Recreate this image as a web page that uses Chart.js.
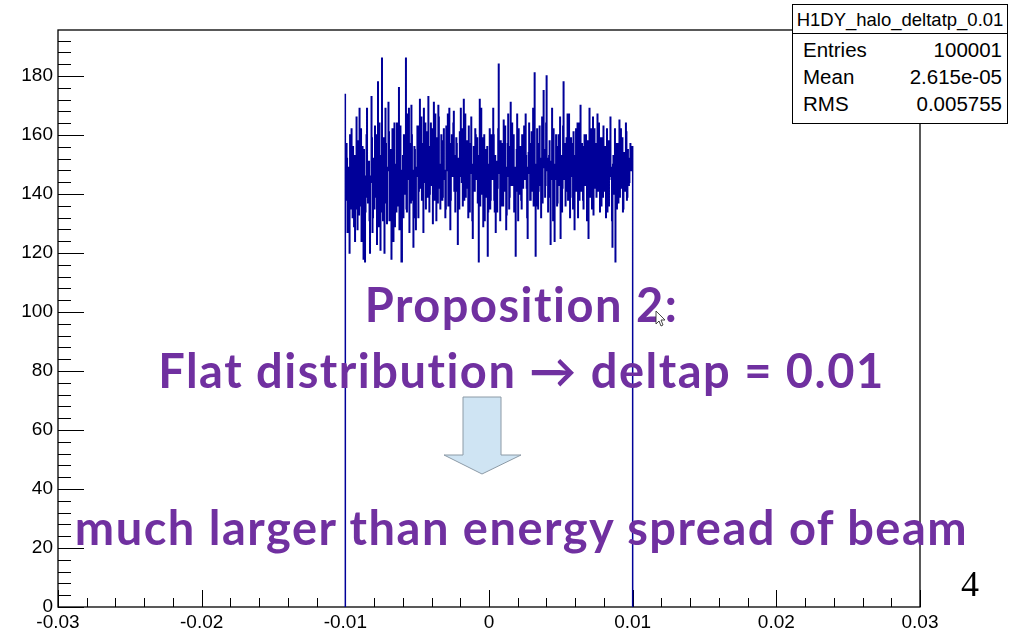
<!DOCTYPE html>
<html>
<head>
<meta charset="utf-8">
<script src="https://cdn.jsdelivr.net/npm/chart.js@4/dist/chart.umd.min.js"></script>
<style>
  html, body { margin: 0; padding: 0; background: #fff; }
  #wrap { position: relative; width: 1016px; height: 634px; overflow: hidden; background: #fff; }
  #c { position: absolute; left: 0; top: 0; }
  .stats { position: absolute; left: 792px; top: 4px; width: 214px; height: 118px; border: 1px solid #000; background: #fff;
           font-family: "Liberation Sans", Arial, sans-serif; color: #000; }
  .stats .title { position: absolute; left: 0; top: 0; width: 100%; height: 28px; border-bottom: 1px solid #000;
                  text-align: center; font-size: 18.5px; line-height: 29px; white-space: nowrap; }
  .stats .row { position: absolute; left: 10px; right: 5px; font-size: 20.5px; line-height: 22px; }
  .stats .row span { position: absolute; right: 0; }
  .note { position: absolute; left: 0; width: 1043px; text-align: center; font-family: Lato, "Open Sans", sans-serif;
          font-weight: 700; font-size: 47px; line-height: 47px; letter-spacing: 1.5px; color: #7030a0; white-space: nowrap; }
  .page { position: absolute; left: 961px; top: 564px; font-family: "Liberation Serif", serif; font-size: 36px; line-height: 40px; color: #000; }
  svg { position: absolute; left: 0; top: 0; }
</style>
</head>
<body>
<div id="wrap">
  <canvas id="c" width="1016" height="634"></canvas>

  <div class="stats">
    <div class="title">H1DY_halo_deltatp_0.01</div>
    <div class="row" style="top:34px">Entries<span>100001</span></div>
    <div class="row" style="top:61px">Mean<span>2.615e-05</span></div>
    <div class="row" style="top:88px">RMS<span>0.005755</span></div>
  </div>

  <div class="note" style="top:281px">Proposition 2:</div>
  <div class="note" style="top:347px">Flat distribution → deltap = 0.01</div>
  <div class="note" style="top:504px">much larger than energy spread of beam</div>

  <svg width="1016" height="634" viewBox="0 0 1016 634">
    <polygon points="463,397 501,397 501,455 521,455 482,474 444,455 463,455"
             fill="#cfe4f3" stroke="#8c9aa6" stroke-width="1"/>
    <path d="M656,311 L656,324 L659,321 L661,326 L663,325 L661,320 L665,320 Z"
          fill="#fff" stroke="#333" stroke-width="0.9"/>
  </svg>

  <div class="page">4</div>
</div>

<script>
// Histogram H1DY_halo_deltatp_0.01: counts per bin between the two edges below
const binLow = -0.01;
const binHigh = 0.01;
const counts = [
  174,138,138,157,152,127,131,149,147,120,160,141,135,162,144,132,156,145,129,153,124,135,150,166,
  141,128,158,149,133,169,147,136,162,124,136,156,142,118,155,143,117,134,146,160,169,139,137,150,
  151,131,120,146,144,173,159,127,132,152,148,135,163,142,139,160,123,138,178,129,141,164,153,121,
  134,153,186,136,131,159,145,120,137,169,157,139,130,148,149,171,161,131,138,155,146,118,133,162,
  155,124,142,164,129,143,150,134,164,152,136,141,176,128,147,163,139,117,117,148,153,132,160,142,
  140,160,186,135,134,167,151,145,169,127,143,157,137,170,160,138,148,122,132,156,155,141,128,149,
  146,163,163,132,141,150,172,142,152,166,138,146,157,127,169,153,144,164,135,148,161,139,149,173,
  156,134,140,155,164,143,147,162,130,149,171,138,152,167,143,131,159,152,137,170,166,142,150,135,
  145,160,158,138,139,156,162,145,148,132,135,163,155,148,167,136,142,169,151,128,138,157,160,146,
  146,164,168,141,153,134,141,159,157,143,123,152,149,135,161,153,169,146,144,162,136,149,172,138,
  150,167,139,155,158,142,145,132,163,157,134,148,152,166,147,131,125,150,156,141,141,162,160,145,
  148,159,137,143,117,153,172,136,153,169,140,149,159,129,146,160,131,148,155,139,143,156,119,134,
  150,142,162,135,138,160,156,145,145,169,160,138,134,153,127,143,151,134,142,162,184,149,147,131,
  158,146,136,157,152,136,165,152,141,163,149,128,133,148,157,167,146,135,139,156,171,143,152,164,
  143,152,160,134,137,149,119,141,155,167,148,131,162,155,140,146,156,138,135,160,151,142,145,163,
  159,145,167,153,142,132,125,149,154,164,147,138,138,157,161,141,149,169,136,150,181,146,119,136,
  150,162,157,135,141,156,163,143,146,132,152,166,137,149,175,155,155,139,143,164,180,152,148,134,
  139,153,158,142,123,148,151,169,145,131,162,150,124,145,149,160,156,136,137,155,160,143,147,166,
  125,146,153,134,142,163,178,145,148,157,136,141,159,150,167,138,144,167,152,132,139,159,157,148,
  146,135,161,153,128,143,150,162,141,149,164,132,153,164,138,146,170,141,147,157,156,138,135,150,
  160,148,143,160,151,131,158,143,125,155,169,139,140,162,154,135,148,166,133,150,162,142,146,157,
  139,152,167,141,152,164,144,134,159,149,136,159,150,139,163,146,141,156,155,132,147,162,134,145,
  158,136,145,155,166,146,149,131,122,150,153,141,140,162,117,143,157,135,148,157,137,149,165,139,
  150,162,142,146,159,134,135,153,154,141,146,164,161,138,139,155,152,143,144,150,157,148,151,156
];

// Axis ranges and labels
const xRange = [-0.03, 0.03];
const yRange = [0, 195.6];
const xTickLabels = ['-0.03', '-0.02', '-0.01', '0', '0.01', '0.02', '0.03'];
const yTickLabels = ['0', '20', '40', '60', '80', '100', '120', '140', '160', '180'];
const xMajor = 0.01, xMinor = 0.002;
const yMajor = 20, yMinor = 4;

// Step outline of the histogram: rises at the low edge, falls at the high edge
const binWidth = (binHigh - binLow) / counts.length;
const outline = [{ x: binLow, y: 0 }];
counts.forEach((c, i) => outline.push({ x: binLow + i * binWidth, y: c }));
outline.push({ x: binHigh, y: counts[counts.length - 1] });
outline.push({ x: binHigh, y: 0 });

const isMajor = (v, step) => Math.abs(v / step - Math.round(v / step)) < 1e-6;

// Frame plus inward ticks along the bottom and left axes
const rootFrame = {
  id: 'rootFrame',
  beforeDatasetsDraw(chart) {
    const { ctx, chartArea: a, scales } = chart;
    ctx.save();
    ctx.strokeStyle = '#000';
    ctx.lineWidth = 1;
    ctx.beginPath();
    scales.x.ticks.forEach(t => {
      const px = Math.round(scales.x.getPixelForValue(t.value)) + 0.5;
      if (px < a.left - 1 || px > a.right + 1) return;
      const len = isMajor(t.value, xMajor) ? 17 : 9;
      ctx.moveTo(px, a.bottom);
      ctx.lineTo(px, a.bottom - len);
    });
    scales.y.ticks.forEach(t => {
      const py = Math.round(scales.y.getPixelForValue(t.value)) + 0.5;
      if (py < a.top - 1 || py > a.bottom + 1) return;
      const len = isMajor(t.value, yMajor) ? 26 : 13;
      ctx.moveTo(a.left, py);
      ctx.lineTo(a.left + len, py);
    });
    ctx.stroke();
    ctx.lineWidth = 1.3;
    ctx.strokeRect(a.left, a.top, a.right - a.left, a.bottom - a.top);
    ctx.restore();
  }
};

new Chart(document.getElementById('c'), {
  type: 'line',
  data: {
    datasets: [{
      data: outline,
      stepped: 'after',
      borderColor: '#000099',
      borderWidth: 1.5,
      pointRadius: 0,
      fill: false,
      tension: 0
    }]
  },
  options: {
    responsive: false,
    devicePixelRatio: 1,
    animation: false,
    layout: { padding: { left: 0, top: 30, right: 96, bottom: 0 } },
    plugins: { legend: { display: false }, tooltip: { enabled: false } },
    scales: {
      x: {
        type: 'linear',
        min: xRange[0], max: xRange[1],
        grid: { display: false, drawTicks: false },
        border: { display: false },
        afterFit(s) { s.height = 27; },
        ticks: {
          stepSize: xMinor, maxTicksLimit: 1000, autoSkip: false, maxRotation: 0, minRotation: 0,
          includeBounds: false, padding: 4, color: '#000',
          font: { family: 'Liberation Sans', size: 19 },
          callback: v => isMajor(v, xMajor) ? xTickLabels[Math.round(v / xMajor) + 3] : ''
        }
      },
      y: {
        min: yRange[0], max: yRange[1],
        grid: { display: false, drawTicks: false },
        border: { display: false },
        afterFit(s) { s.width = 58; },
        ticks: {
          stepSize: yMinor, maxTicksLimit: 1000, autoSkip: false, includeBounds: false,
          padding: 5, color: '#000',
          font: { family: 'Liberation Sans', size: 19 },
          callback: v => isMajor(v, yMajor) ? yTickLabels[Math.round(v / yMajor)] : ''
        }
      }
    }
  },
  plugins: [rootFrame]
});
</script>
</body>
</html>
